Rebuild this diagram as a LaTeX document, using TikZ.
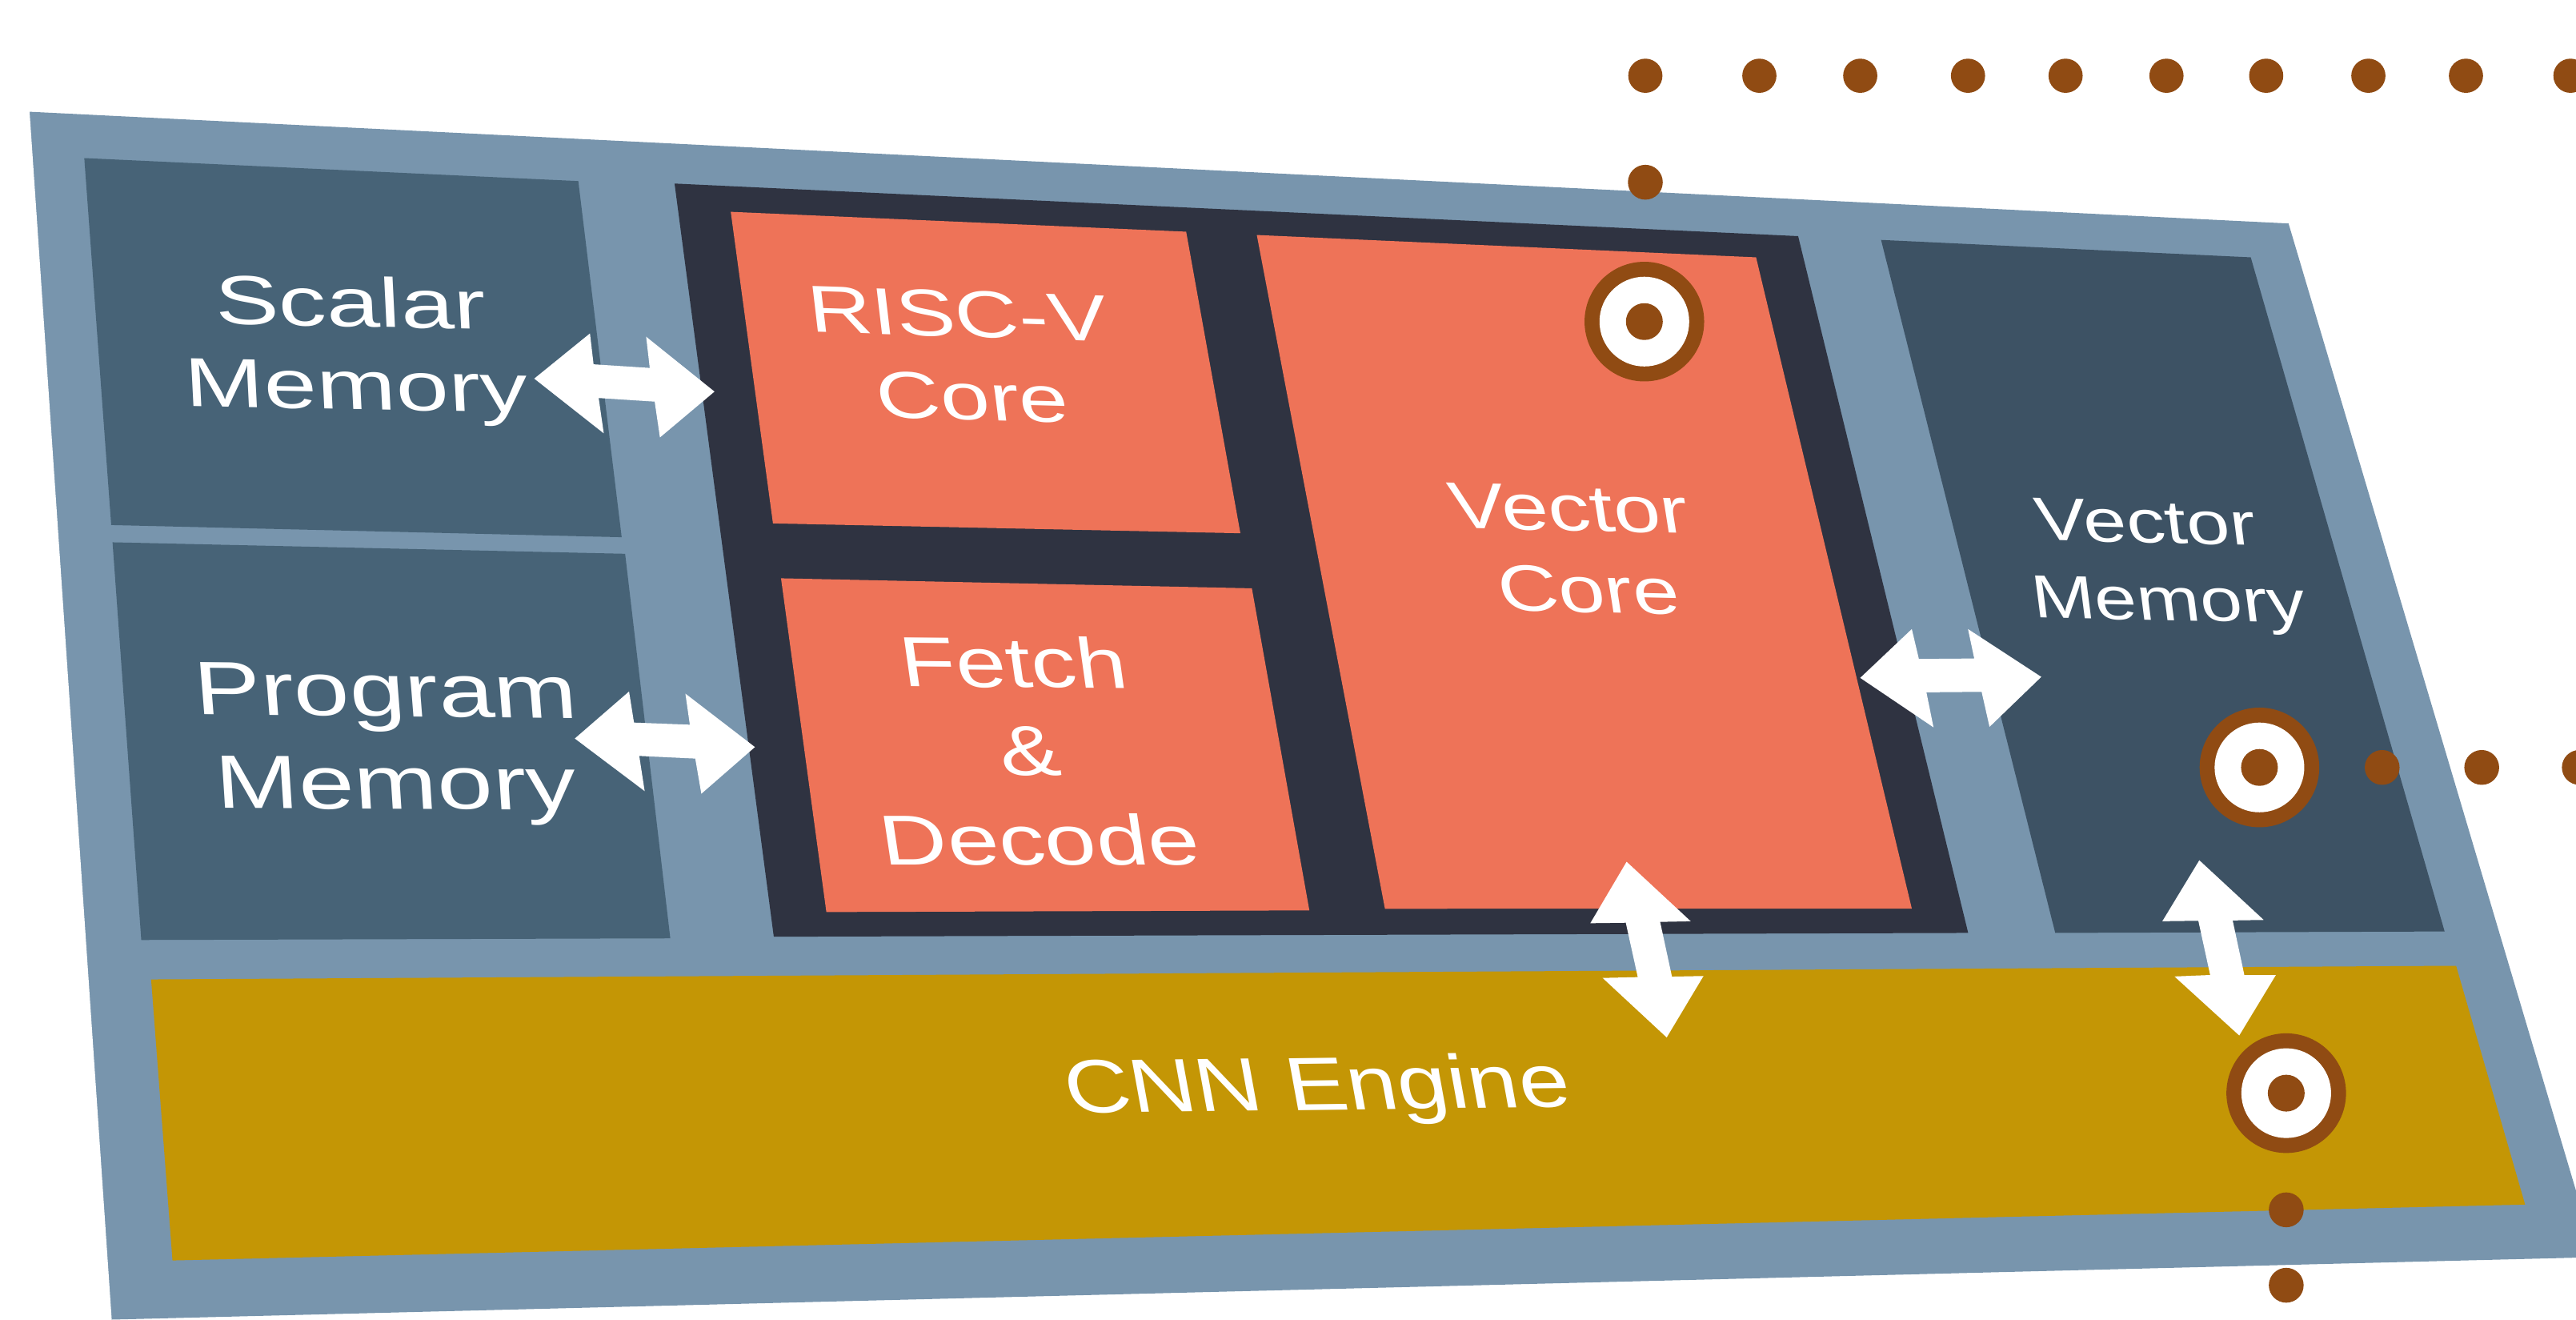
\documentclass[tikz,border=0pt]{standalone}
\usepackage{fontspec}
\setmainfont{Liberation Sans}
\definecolor{outerblue}{HTML}{7895AD}
\definecolor{memblue}{HTML}{476377}
\definecolor{vmemblue}{HTML}{3D5264}
\definecolor{coredark}{HTML}{2F3341}
\definecolor{coreorange}{HTML}{EE7358}
\definecolor{cnngold}{HTML}{C49605}
\definecolor{dotbrown}{HTML}{904B13}
\newcommand{\mytarget}[3]{%
  \coordinate (#1) at (#2,#3);
  \fill[dotbrown] (#1) circle[radius=36.4];
  \fill[white] (#1) circle[radius=27.3];
  \fill[dotbrown] (#1) circle[radius=11.2];}
\newcommand{\mydot}[2]{\fill[dotbrown] (#1,#2) circle[radius=10.6];}
\begin{document}
\begin{tikzpicture}[x=0.02cm,y=-0.02cm,
  lab/.style n args={4}{text=white, anchor=base, inner sep=0pt, outer sep=0pt,
    font=\fontsize{#1}{#1}\selectfont, rotate=#4, xslant=#3, xscale=#2},
  arrowshape/.style={fill=white}]
\useasboundingbox (0,0) rectangle (1568,803);
\clip (0,0) rectangle (1568,803);
% outer chip
\fill[outerblue] (18,68) -- (1393,136) -- (1580,765) -- (68,803) -- (68,810) -- (0,810) -- cycle;
\fill[white] (0,0) -- (18,68) -- (68,803) -- (68,810) -- (0,810) -- cycle;
% memories
\fill[memblue] (51.3,96.2) -- (352,110.2) -- (378.4,326.9) -- (67.7,319.5) -- cycle;
\fill[memblue] (68.5,330) -- (380.5,337) -- (408,571) -- (86,572) -- cycle;
% core area
\fill[coredark] (410.6,111.7) -- (1094.5,143.7) -- (1198,567.7) -- (471,570) -- cycle;
\fill[coreorange] (444.8,128.9) -- (722,141) -- (755,324.5) -- (470.5,318.5) -- cycle;
\fill[coreorange] (475.4,351.9) -- (762,358) -- (797,554) -- (503,555) -- cycle;
\fill[coreorange] (765,143) -- (1068.9,156.6) -- (1163.7,552.9) -- (843,553) -- cycle;
% vector memory
\fill[vmemblue] (1145,146) -- (1370,156.6) -- (1488,566.8) -- (1251,567.7) -- cycle;
% CNN engine
\fill[cnngold] (92,596) -- (1495,587.7) -- (1537,733) -- (105,767) -- cycle;
% labels
\node[lab={24pt}{1.38}{-0.07}{-1.2}] (scalarA) at (214,198.7) {Scalar};
\node[lab={24pt}{1.37}{-0.07}{-1.1}] (scalarB) at (217.6,249.1) {Memory};
\node[lab={26.2pt}{1.32}{-0.09}{-0.6}] (progA) at (235.9,436) {Program};
\node[lab={26.2pt}{1.32}{-0.07}{-0.3}] (progB) at (242,492.3) {Memory};
\node[lab={22.9pt}{1.335}{-0.15}{-1.8}] (riscA) at (584.5,205) {RISC-V};
\node[lab={22.9pt}{1.34}{-0.15}{-1.5}] (riscB) at (593.6,255.5) {Core};
\node[lab={24.5pt}{1.275}{-0.15}{-0.5}] (fetchA) at (619,418.3) {Fetch};
\node[lab={24.5pt}{1.275}{-0.15}{-0.3}] (fetchB) at (628.8,471.7) {\&};
\node[lab={24.5pt}{1.305}{-0.15}{0}] (fetchC) at (635,526.4) {Decode};
\node[lab={22.6pt}{1.29}{-0.18}{-1.3}] (vcoreA) at (957,323) {Vector};
\node[lab={22.6pt}{1.28}{-0.18}{-1.3}] (vcoreB) at (969,372.6) {Core};
\node[lab={21pt}{1.28}{-0.15}{-1.4}] (vmemA) at (1307.5,330.3) {Vector};
\node[lab={21pt}{1.25}{-0.15}{-1.2}] (vmemB) at (1321.5,377.5) {Memory};
\node[lab={26.2pt}{1.2}{-0.17}{0.7}] (cnn) at (804.3,675.4) {CNN Engine};
% arrows
\fill[arrowshape] (325.2,230.4) -- (359.1,202.9) -- (361.3,221.7) -- (395.5,223.9) -- (393.3,204.9) -- (434.9,238.3) -- (401.7,266.2) -- (398.5,244.4) -- (364.4,242.2) -- (367.5,263.7) -- cycle;
\fill[arrowshape] (349.9,449.4) -- (382.9,420.8) -- (385.9,439.7) -- (419.9,441) -- (417.2,422.1) -- (459.5,454.6) -- (426.9,483) -- (423.2,461.6) -- (389.1,460) -- (392.4,481.4) -- cycle;
\fill[arrowshape] (1132.3,412.5) -- (1163.7,382.8) -- (1168,401) -- (1201.7,400.7) -- (1197.9,382.8) -- (1242.5,411.9) -- (1211,442.3) -- (1206.2,421) -- (1172.6,421.3) -- (1176.9,442.6) -- cycle;
\fill[arrowshape] (990.1,524.4) -- (1029.1,560.6) -- (1010.5,561) -- (1017.7,594.3) -- (1036.9,593.9) -- (1014.5,631.3) -- (975.5,595.1) -- (996.9,594.6) -- (989.6,561.5) -- (968,561.8) -- cycle;
\fill[arrowshape] (1338.7,523.5) -- (1377.9,559.8) -- (1359,560.1) -- (1366.1,593.3) -- (1385.3,593.3) -- (1363,630.1) -- (1323.6,594.2) -- (1345.3,593.3) -- (1338.1,560.3) -- (1316.2,560.6) -- cycle;
% targets
\mytarget{tcore}{1000.9}{195.7}
\mytarget{tvmem}{1375.3}{467}
\mytarget{tcnn}{1391.6}{665.2}
% dots
\foreach \xx in {1001.5,1070.9,1132.3,1197.9,1257.3,1318.7,1379.4,1441.6,1501,1564.6} {\fill[dotbrown] (\xx,46.1) circle[radius=10.4];}
\mydot{1001.5}{110.9}
\mydot{1450}{467}
\mydot{1510.6}{467}
\mydot{1570}{467}
\mydot{1391.6}{736.2}
\mydot{1391.6}{782.1}
\end{tikzpicture}
\end{document}
